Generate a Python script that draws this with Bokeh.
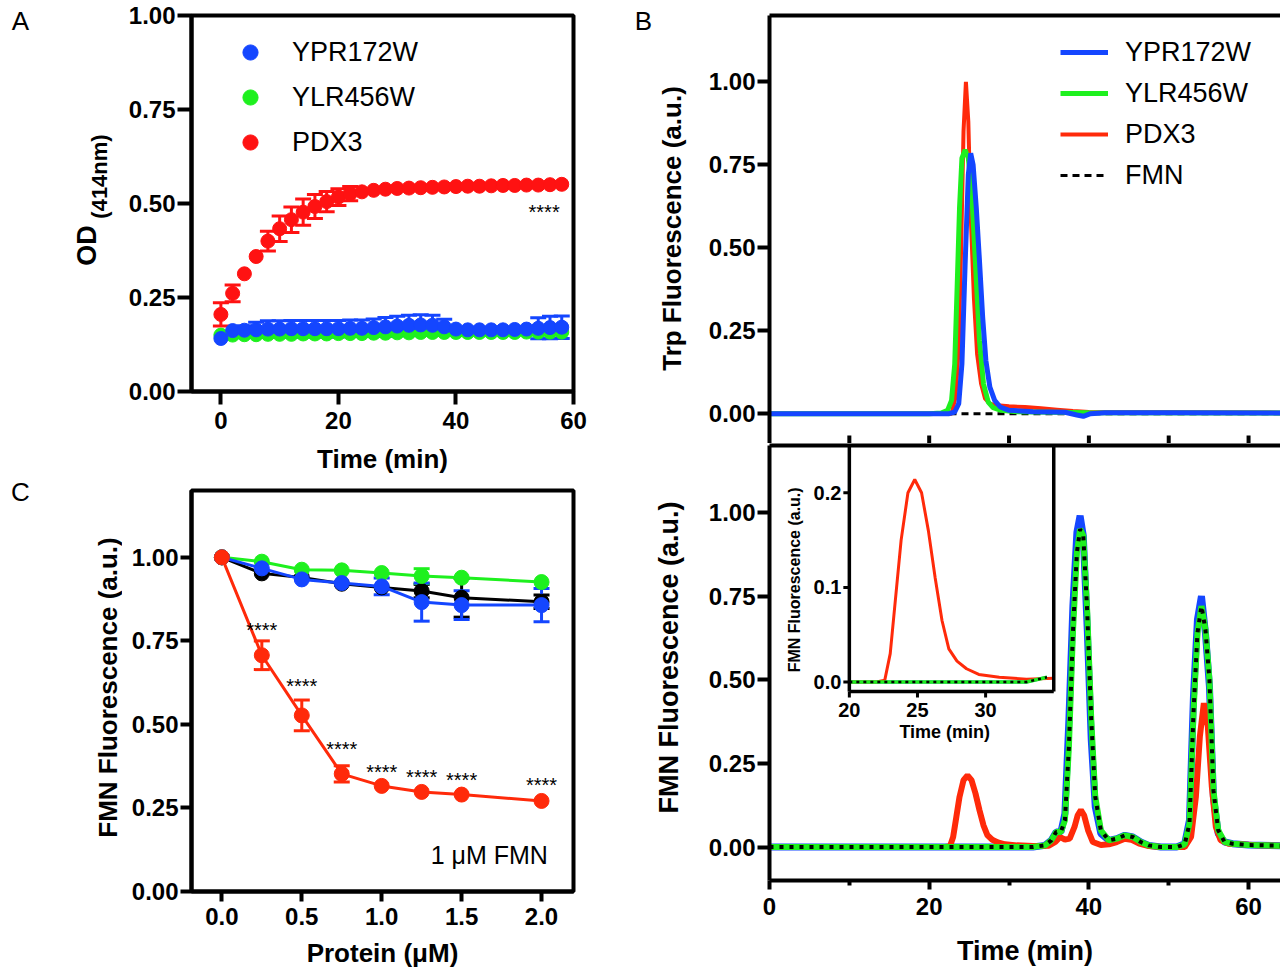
import math
from bokeh.plotting import figure
from bokeh.layouts import row, column
from bokeh.models import (ColumnDataSource, Whisker, TeeHead, FixedTicker,
                          NumeralTickFormatter, Label, Legend, LegendItem,
                          LinearAxis, Range1d)
from bokeh.core.properties import value
from bokeh.embed import file_html
from bokeh.resources import INLINE

FONT = "Liberation Sans"
RED_A = "#ff1212"
RED = "#ff2a0a"
BLUE = "#1446ff"
GREEN = "#1ef01e"
BLACK = "#000000"

# ---------------- Panel A data ----------------
a_time = [0, 2, 4, 6, 8, 10, 12, 14, 16, 18, 20, 22, 24, 26, 28,
          30, 32, 34, 36, 38, 40, 42, 44, 46, 48, 50, 52, 54, 56, 58]
a_pdx3 = [0.205, 0.261, 0.313, 0.359, 0.400, 0.433, 0.457, 0.477, 0.492, 0.505,
          0.517, 0.526, 0.531, 0.535, 0.538, 0.540, 0.541, 0.542, 0.543, 0.544,
          0.545, 0.546, 0.546, 0.547, 0.548, 0.548, 0.549, 0.549, 0.550, 0.551]
a_pdx3_err = [0.031, 0.022, 0, 0, 0.026, 0.034, 0.034, 0.035, 0.032, 0.027,
              0.022, 0.019, 0, 0, 0, 0, 0, 0, 0, 0, 0, 0, 0, 0, 0, 0, 0, 0, 0, 0]
a_ypr = [0.141, 0.162, 0.163, 0.164, 0.166, 0.166, 0.167, 0.167, 0.167, 0.167,
         0.167, 0.168, 0.168, 0.170, 0.172, 0.174, 0.176, 0.177, 0.176, 0.172,
         0.166, 0.164, 0.164, 0.164, 0.164, 0.165, 0.166, 0.168, 0.170, 0.171]
a_ypr_err = [0, 0, 0.012, 0.020, 0.022, 0.022, 0.022, 0.022, 0.022, 0.022,
             0.022, 0.022, 0.022, 0.023, 0.025, 0.026, 0.027, 0.027, 0.027, 0.020,
             0, 0, 0, 0, 0, 0, 0, 0.028, 0.030, 0.030]
a_ylr = [0.150, 0.150, 0.151, 0.151, 0.152, 0.152, 0.152, 0.153, 0.153, 0.153,
         0.154, 0.154, 0.154, 0.155, 0.155, 0.156, 0.156, 0.157, 0.157, 0.157,
         0.157, 0.157, 0.157, 0.157, 0.157, 0.157, 0.158, 0.158, 0.158, 0.158]
a_yticks = [0, 0.25, 0.5, 0.75, 1.0]
a_xticks = [0, 20, 40, 60]

# ---------------- Panel C data ----------------
c_protein = [0, 0.25, 0.5, 0.75, 1.0, 1.25, 1.5, 2.0]
c_pdx3 = [1.0, 0.707, 0.527, 0.352, 0.316, 0.298, 0.290, 0.271]
c_pdx3_err = [0, 0.043, 0.046, 0.024, 0, 0, 0, 0]
c_ypr = [1.0, 0.967, 0.934, 0.923, 0.913, 0.866, 0.857, 0.857]
c_ypr_err = [0, 0, 0, 0, 0.025, 0.057, 0.043, 0.050]
c_ylr = [1.0, 0.987, 0.963, 0.961, 0.953, 0.944, 0.939, 0.926]
c_ylr_err = [0, 0, 0, 0, 0, 0.022, 0, 0]
c_ctrl = [1.0, 0.952, 0.940, 0.921, 0.910, 0.899, 0.879, 0.867]
c_ctrl_err = [0, 0, 0, 0, 0, 0.02, 0.058, 0.02]
c_star_x = [0.25, 0.5, 0.75, 1.0, 1.25, 1.5, 2.0]
c_star_y = [0.783, 0.614, 0.427, 0.358, 0.343, 0.334, 0.319]
c_yticks = [0, 0.25, 0.5, 0.75, 1.0]
c_xticks = [0, 0.5, 1.0, 1.5, 2.0]

# ---------------- Panel B (top: Trp fluorescence) ----------------
bt_ypr_t = [0, 20, 22.5, 23.2, 23.7, 24.1, 24.5, 24.9, 25.2, 25.5, 25.9, 26.3, 26.7,
            27.1, 27.6, 28.2, 28.9, 30, 33, 37, 38.5, 39.3, 40.2, 42, 50, 64]
bt_ypr = [0, 0, 0, 0.005, 0.03, 0.15, 0.45, 0.72, 0.785, 0.75, 0.62, 0.46, 0.29,
          0.16, 0.08, 0.04, 0.02, 0.01, 0.006, 0.004, -0.004, -0.008, 0.0, 0.003, 0.003, 0.002]
bt_ylr_t = [0, 20, 21.5, 22.3, 22.8, 23.2, 23.5, 23.8, 24.1, 24.5, 24.9, 25.3, 25.8,
            26.3, 26.8, 27.4, 28.0, 29, 31, 40, 64]
bt_ylr = [0, 0, 0.002, 0.01, 0.04, 0.15, 0.38, 0.62, 0.77, 0.795, 0.77, 0.68, 0.45,
          0.22, 0.09, 0.035, 0.018, 0.01, 0.006, 0.003, 0.002]
bt_pdx3_t = [0, 20, 22.8, 23.3, 23.7, 24.0, 24.3, 24.6, 24.9, 25.2, 25.6, 26.0, 26.5,
             27.0, 27.6, 28.5, 30, 32, 34, 36, 38, 40, 45, 50, 64]
bt_pdx3 = [0, 0, 0.0, 0.05, 0.2, 0.5, 0.85, 1.0, 0.88, 0.6, 0.35, 0.18, 0.09,
           0.045, 0.03, 0.025, 0.022, 0.02, 0.016, 0.012, 0.008, 0.005, 0.004, 0.004, 0.003]
bt_fmn_t = [0, 16, 32, 48, 64]
bt_fmn = [0, 0, 0, 0, 0]

# ---------------- Panel B (bottom: FMN fluorescence) ----------------
bb_t = [0, 20, 33, 34.5, 35.3, 35.9, 36.5, 37.0, 37.5, 38.0, 38.5, 38.9, 39.3, 39.8,
        40.3, 40.8, 41.5, 42.5, 43.5, 44.5, 45.5, 46.5, 47.5, 49, 51, 52.0, 52.6,
        53.1, 53.6, 54.1, 54.6, 55.1, 55.6, 56.2, 57.0, 58, 60, 64]
bb_ypr = [0, 0, 0.0, 0.005, 0.02, 0.045, 0.045, 0.10, 0.38, 0.72, 0.94, 0.99, 0.93, 0.65,
          0.32, 0.12, 0.04, 0.02, 0.025, 0.035, 0.03, 0.015, 0.005, 0.0, 0.0, 0.01, 0.08,
          0.45, 0.68, 0.75, 0.64, 0.48, 0.15, 0.04, 0.015, 0.01, 0.006, 0.004]
bb_ylr = [0, 0, 0.0, 0.005, 0.02, 0.045, 0.045, 0.08, 0.30, 0.64, 0.88, 0.95, 0.93, 0.70,
          0.38, 0.15, 0.05, 0.02, 0.025, 0.035, 0.03, 0.015, 0.005, 0.0, 0.0, 0.008, 0.07,
          0.40, 0.64, 0.72, 0.65, 0.50, 0.17, 0.05, 0.015, 0.01, 0.006, 0.004]
bb_fmn = [0, 0, 0.0, 0.005, 0.02, 0.045, 0.045, 0.08, 0.30, 0.64, 0.88, 0.95, 0.93, 0.70,
          0.38, 0.15, 0.05, 0.02, 0.025, 0.035, 0.03, 0.015, 0.005, 0.0, 0.0, 0.008, 0.07,
          0.40, 0.64, 0.72, 0.65, 0.50, 0.17, 0.05, 0.015, 0.01, 0.006, 0.004]
bb_pdx3_t = [0, 20, 22.0, 22.6, 23.0, 23.4, 23.8, 24.3, 24.8, 25.3, 25.8, 26.3, 26.8,
             27.3, 27.9, 28.6, 29.5, 31, 33, 35, 35.8, 36.4, 37.0, 37.6, 38.2, 38.6,
             39.0, 39.4, 39.9, 40.5, 41.5, 42.5, 43.5, 44.5, 45.3, 46.3, 47.5, 49, 52.0,
             52.8, 53.4, 53.9, 54.4, 54.9, 55.4, 55.9, 56.5, 57.5, 59, 61, 64]
bb_pdx3 = [0, 0, 0, 0.002, 0.03, 0.09, 0.15, 0.20, 0.214, 0.2, 0.16, 0.11, 0.065,
           0.035, 0.022, 0.014, 0.008, 0.005, 0.003, 0.004, 0.015, 0.03, 0.022, 0.025,
           0.06, 0.095, 0.11, 0.095, 0.05, 0.015, 0.006, 0.008, 0.015, 0.025, 0.022,
           0.01, 0.003, 0.0, 0.0, 0.03, 0.15, 0.33, 0.43, 0.36, 0.18, 0.06, 0.02, 0.01,
           0.008, 0.005, 0.004]
b_yticks = [0, 0.25, 0.5, 0.75, 1.0]
b_xticks = [0, 20, 40, 60]
b_xminor = [10, 30, 50]
b_topticks = [10, 20, 30, 40, 50, 60]
inset_xticks = [20, 25, 30]
inset_yticks = [0.0, 0.1, 0.2]

# ---------------- layout constants (pixels) ----------------
LS_W, RS_W = 122, 67      # text strips left of each column
LW, RW = 506, 585         # plot widths
A_H, C_H = 476, 494
BT_H, BB_H = 443, 527
B_ML = 74
B_XR = (0, 64)
BT_YR = (-0.09, 1.2)
BB_YR = (-0.1, 1.2)
IN_X = (20, 35)
IN_Y = (-0.01, 0.25)
IN_BOX = (10.0, 35.6, 0.465, 1.2)   # region of the lower-B frame (data units) used by the inset


def base_fig(w, h, xr, yr, ml, mr, mt, mb, outline=True, **kw):
    p = figure(width=w, height=h, x_range=xr, y_range=yr,
               output_backend="svg", toolbar_location=None,
               min_border_left=ml, min_border_right=mr,
               min_border_top=mt, min_border_bottom=mb, **kw)
    p.grid.visible = False
    p.outline_line_color = "black" if outline else None
    p.outline_line_width = 4
    p.outline_line_alpha = 1.0
    p.background_fill_color = "white"
    p.border_fill_color = "white"
    return p


def strip_fig(w, h):
    p = figure(width=w, height=h, x_range=Range1d(0, w), y_range=Range1d(h, 0),
               output_backend="svg", toolbar_location=None, min_border=0,
               x_axis_location=None, y_axis_location=None)
    p.grid.visible = False
    p.outline_line_color = None
    p.background_fill_color = "white"
    p.border_fill_color = "white"
    return p


def style_axis(ax, ticks, fmt, tick_out, standoff=2, size="24px", minor=None, minor_out=0):
    ax.ticker = FixedTicker(ticks=ticks, minor_ticks=minor or [])
    ax.formatter = NumeralTickFormatter(format=fmt)
    ax.axis_line_width = 4
    ax.axis_line_color = "black"
    ax.major_tick_line_width = 4
    ax.major_tick_line_color = "black"
    ax.major_tick_out = tick_out
    ax.major_tick_in = 0
    ax.minor_tick_line_width = 4
    ax.minor_tick_line_color = "black" if minor else None
    ax.minor_tick_out = minor_out
    ax.minor_tick_in = 0
    ax.major_label_text_font = FONT
    ax.major_label_text_font_style = "bold"
    ax.major_label_text_font_size = size
    ax.major_label_text_color = "black"
    ax.major_label_standoff = standoff


def axis_title(ax, text, size, standoff):
    ax.axis_label = text
    ax.axis_label_text_font = FONT
    ax.axis_label_text_font_style = "bold"
    ax.axis_label_text_font_size = size
    ax.axis_label_text_color = "black"
    ax.axis_label_standoff = standoff


def text_label(p, x, y, text, size, bold=True, angle=0, xo=0, yo=0, align="center", **kw):
    lab = Label(x=x, y=y, text=text, x_offset=xo, y_offset=yo, angle=angle,
                text_font=FONT, text_font_size=size,
                text_font_style="bold" if bold else "normal",
                text_align=align, text_baseline="middle", text_color="black", **kw)
    p.add_layout(lab)
    return lab


def line_axis():
    return LinearAxis(ticker=FixedTicker(ticks=[]), axis_line_width=4,
                      axis_line_color="black", major_tick_out=0, minor_tick_out=0)


def whiskers(p, xs, ys, errs, color, size=16, width=3):
    pts = [(x, y, e) for x, y, e in zip(xs, ys, errs) if e > 0]
    src = ColumnDataSource(dict(x=[q[0] for q in pts],
                                upper=[q[1] + q[2] for q in pts],
                                lower=[q[1] - q[2] for q in pts]))
    w = Whisker(source=src, base="x", upper="upper", lower="lower",
                line_color=color, line_width=width,
                upper_head=TeeHead(size=size, line_color=color, line_width=width),
                lower_head=TeeHead(size=size, line_color=color, line_width=width))
    p.add_layout(w)


# =============== text strips (panel letters and vertical titles) ===============
ls = strip_fig(LS_W, A_H + C_H)
text_label(ls, 20, 20, "A", "26px", bold=False)
text_label(ls, 20, 491, "C", "26px", bold=False)
text_label(ls, 86, 245, "OD", "27px", angle=math.pi / 2)
text_label(ls, 99, 176, "(414nm)", "22px", angle=math.pi / 2)
text_label(ls, 107, 687, "FMN Fluorescence (a.u.)", "26px", angle=math.pi / 2)

rs = strip_fig(RS_W, BT_H + BB_H)
text_label(rs, 15, 20, "B", "26px", bold=False)
text_label(rs, 43, 228, "Trp Fluorescence (a.u.)", "26px", angle=math.pi / 2)
text_label(rs, 40, 657, "FMN Fluorescence (a.u.)", "27px", angle=math.pi / 2)

# =============== Panel A ===============
pa = base_fig(LW, A_H, Range1d(-5, 60), Range1d(0, 1.0), 69, 55, 15, 85)
style_axis(pa.left[0], a_yticks, "0.00", 14)
style_axis(pa.below[0], a_xticks, "0", 13, standoff=7)
axis_title(pa.below[0], "Time (min)", "26px", 12)
whiskers(pa, a_time, a_pdx3, a_pdx3_err, RED_A)
whiskers(pa, a_time, a_ypr, a_ypr_err, BLUE)
ra_red = pa.scatter(a_time, a_pdx3, size=14, fill_color=RED_A, line_color=RED_A)
ra_green = pa.scatter(a_time, a_ylr, size=14, fill_color=GREEN, line_color=GREEN)
ra_blue = pa.scatter(a_time, a_ypr, size=14, fill_color=BLUE, line_color=BLUE)
leg_a = Legend(items=[LegendItem(label="YPR172W", renderers=[ra_blue]),
                      LegendItem(label="YLR456W", renderers=[ra_green]),
                      LegendItem(label="PDX3", renderers=[ra_red])],
               location=(40, 230), glyph_width=38, glyph_height=38, label_height=38,
               label_standoff=23, spacing=7, padding=0, margin=0,
               border_line_color=None, background_fill_alpha=0,
               label_text_font=FONT, label_text_font_size="27px", label_text_color="black")
pa.add_layout(leg_a)
text_label(pa, 55, 0.478, "****", "20px", bold=False)

# =============== Panel C ===============
pc = base_fig(LW, C_H, Range1d(-0.19, 2.2), Range1d(0, 1.2), 68, 55, 14, 78)
style_axis(pc.left[0], c_yticks, "0.00", 11)
style_axis(pc.below[0], c_xticks, "0.0", 10, standoff=6)
axis_title(pc.below[0], "Protein (\u03bcM)", "26px", 10)
whiskers(pc, c_protein, c_ctrl, c_ctrl_err, BLACK)
whiskers(pc, c_protein, c_ylr, c_ylr_err, GREEN)
whiskers(pc, c_protein, c_ypr, c_ypr_err, BLUE)
whiskers(pc, c_protein, c_pdx3, c_pdx3_err, RED)
for ys, col in [(c_ctrl, BLACK), (c_ylr, GREEN), (c_ypr, BLUE), (c_pdx3, RED)]:
    pc.line(c_protein, ys, line_color=col, line_width=3)
    pc.scatter(c_protein, ys, size=15, fill_color=col, line_color=col)
pc.text(x=c_star_x, y=c_star_y, text=["****"] * len(c_star_x),
        text_font=value(FONT), text_font_size="20px", text_align="center",
        text_baseline="middle", text_color="black")
text_label(pc, 2.04, 0.11, "1 \u03bcM FMN", "25px", bold=False, align="right")

# =============== Panel B top ===============
bx = Range1d(*B_XR)
pbt = base_fig(RW, BT_H, bx, Range1d(*BT_YR), B_ML, 0, 15, 0, outline=False,
               x_axis_location=None)
style_axis(pbt.left[0], b_yticks, "0.00", 12)
pbt.add_layout(line_axis(), "above")
r_fmn_t = pbt.line(bt_fmn_t, bt_fmn, line_color=BLACK, line_width=3, line_dash="7 5")
r_red_t = pbt.line(bt_pdx3_t, bt_pdx3, line_color=RED, line_width=4)
r_grn_t = pbt.line(bt_ylr_t, bt_ylr, line_color=GREEN, line_width=5)
r_blu_t = pbt.line(bt_ypr_t, bt_ypr, line_color=BLUE, line_width=5)
bt_px = (BT_H - 15) / (BT_YR[1] - BT_YR[0])
pbt.segment(x0=b_topticks, x1=b_topticks, y0=[BT_YR[0]] * len(b_topticks),
            y1=[BT_YR[0] + 8 / bt_px] * len(b_topticks), line_color="black", line_width=4)
leg_b = Legend(items=[LegendItem(label="YPR172W", renderers=[r_blu_t]),
                      LegendItem(label="YLR456W", renderers=[r_grn_t]),
                      LegendItem(label="PDX3", renderers=[r_red_t]),
                      LegendItem(label="FMN", renderers=[r_fmn_t])],
               location=(291, 250), glyph_width=48, glyph_height=36, label_height=36,
               label_standoff=17, spacing=5, padding=0, margin=0,
               border_line_color=None, background_fill_alpha=0,
               label_text_font=FONT, label_text_font_size="27px", label_text_color="black")
pbt.add_layout(leg_b)

# =============== Panel B bottom ===============
pbb = base_fig(RW, BB_H, bx, Range1d(*BB_YR), B_ML, 0, 2, 90, outline=False)
style_axis(pbb.left[0], b_yticks, "0.00", 12)
style_axis(pbb.below[0], b_xticks, "0", 9, standoff=8, minor=b_xminor, minor_out=5)
axis_title(pbb.below[0], "Time (min)", "27px", 18)
pbb.add_layout(line_axis(), "above")
pbb.line(bb_t, bb_ypr, line_color=BLUE, line_width=7)
pbb.line(bb_pdx3_t, bb_pdx3, line_color=RED, line_width=6)
pbb.line(bb_t, bb_ylr, line_color=GREEN, line_width=6)
pbb.line(bb_t, bb_fmn, line_color=BLACK, line_width=4, line_dash="4 6")

# ---- inset drawn on extra ranges of the lower-B plot ----
kx = (IN_BOX[1] - IN_BOX[0]) / (IN_X[1] - IN_X[0])
ky = (IN_BOX[3] - IN_BOX[2]) / (IN_Y[1] - IN_Y[0])
inx = Range1d(IN_X[0] + (B_XR[0] - IN_BOX[0]) / kx, IN_X[0] + (B_XR[1] - IN_BOX[0]) / kx)
iny = Range1d(IN_Y[0] + (BB_YR[0] - IN_BOX[2]) / ky, IN_Y[0] + (BB_YR[1] - IN_BOX[2]) / ky)
pbb.extra_x_ranges = {"inx": inx}
pbb.extra_y_ranges = {"iny": iny}
FW = RW - B_ML
FH = BB_H - 2 - 90
px_x = FW / (inx.end - inx.start)
px_y = FH / (iny.end - iny.start)
IR = dict(x_range_name="inx", y_range_name="iny")


def inset_src(ts, ys):
    keep = [(t, y) for t, y in zip(ts, ys) if IN_X[0] <= t <= IN_X[1]]
    return ColumnDataSource(dict(x=[k[0] for k in keep], y=[k[1] for k in keep]))


pbb.line(source=inset_src(bb_t, bb_ypr), x="x", y="y", line_color=BLUE, line_width=3, **IR)
pbb.line(source=inset_src(bb_pdx3_t, bb_pdx3), x="x", y="y", line_color=RED, line_width=3, **IR)
pbb.line(source=inset_src(bb_t, bb_ylr), x="x", y="y", line_color=GREEN, line_width=3.5, **IR)
pbb.line(source=inset_src(bb_t, bb_fmn), x="x", y="y", line_color=BLACK, line_width=2.5,
         line_dash="3 4", **IR)
pbb.segment(x0=[IN_X[0], IN_X[0], IN_X[1]], y0=[IN_Y[1], IN_Y[0], IN_Y[0]],
            x1=[IN_X[0], IN_X[1], IN_X[1]], y1=[IN_Y[0], IN_Y[0], IN_Y[1]],
            line_color="black", line_width=3.5, **IR)
tlx = 6 / px_x
tly = 6 / px_y
pbb.segment(x0=[IN_X[0]] * len(inset_yticks), x1=[IN_X[0] - tlx] * len(inset_yticks),
            y0=inset_yticks, y1=inset_yticks, line_color="black", line_width=3, **IR)
pbb.segment(x0=inset_xticks, x1=inset_xticks,
            y0=[IN_Y[0]] * len(inset_xticks), y1=[IN_Y[0] - tly] * len(inset_xticks),
            line_color="black", line_width=3, **IR)
pbb.text(x=[IN_X[0] - tlx - 2 / px_x] * len(inset_yticks), y=inset_yticks,
         text=["%.1f" % v for v in inset_yticks], text_font=value(FONT),
         text_font_style="bold", text_font_size="20px", text_align="right",
         text_baseline="middle", text_color="black", **IR)
pbb.text(x=inset_xticks, y=[IN_Y[0] - 19 / px_y] * len(inset_xticks),
         text=["%d" % v for v in inset_xticks], text_font=value(FONT),
         text_font_style="bold", text_font_size="20px", text_align="center",
         text_baseline="middle", text_color="black", **IR)
text_label(pbb, 27, IN_Y[0] - 41 / px_y, "Time (min)", "18px", **IR)
text_label(pbb, IN_X[0] - 55 / px_x, 0.108, "FMN Fluorescence (a.u.)", "16px",
           angle=math.pi / 2, **IR)

layout = row(ls, column(pa, pc), rs, column(pbt, pbb))
open("out.html", "w").write(file_html(layout, INLINE))
